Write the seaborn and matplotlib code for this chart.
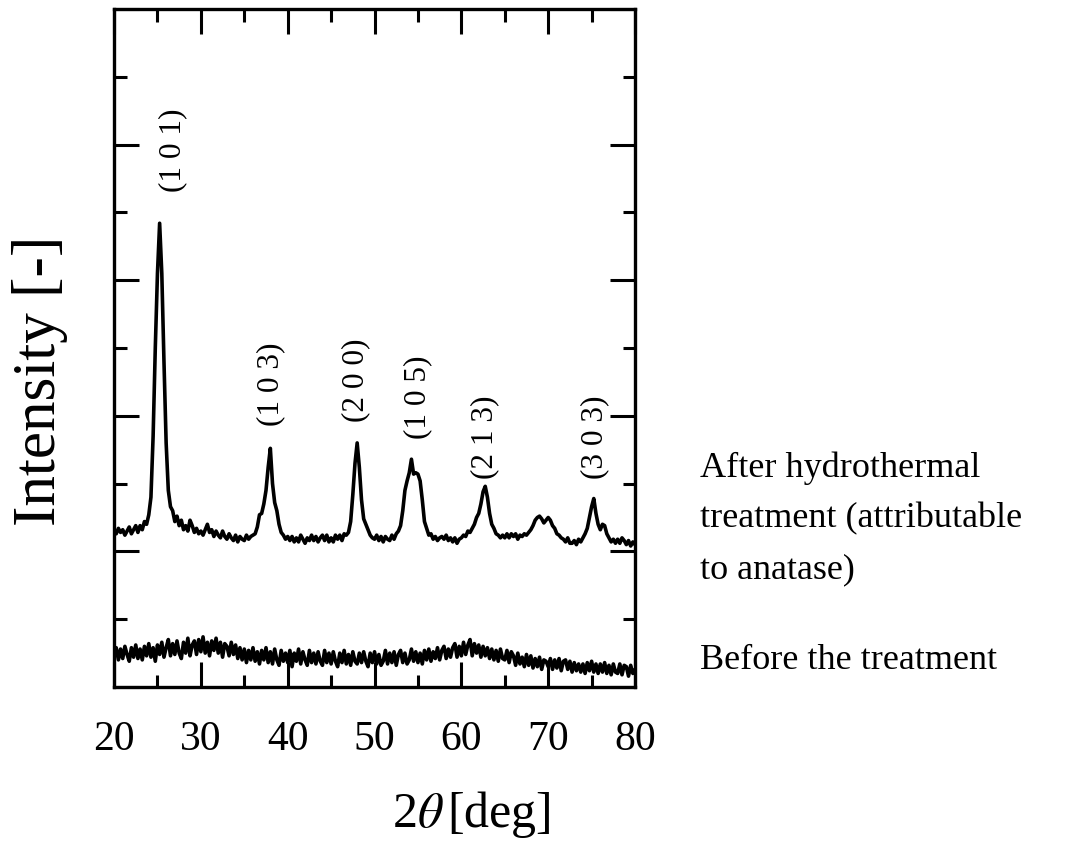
import numpy as np
import pandas as pd
import matplotlib
matplotlib.use("Agg")
import matplotlib.pyplot as plt
import seaborn as sns
from matplotlib.ticker import MultipleLocator

# XRD traces, one value every 0.25 deg from 20 to 80
two_theta = np.linspace(20, 80, 241)

after = [
    1.16, 1.13, 1.17, 1.14,  # 20
    1.16, 1.12, 1.15, 1.18,  # 21
    1.13, 1.16, 1.19, 1.14,  # 22
    1.19, 1.16, 1.22, 1.20,  # 23
    1.27, 1.40, 1.85, 2.50,  # 24
    3.05, 3.42, 3.05, 2.40,  # 25
    1.80, 1.45, 1.33, 1.30,  # 26
    1.22, 1.26, 1.19, 1.23,  # 27
    1.16, 1.19, 1.15, 1.23,  # 28
    1.19, 1.14, 1.17, 1.13,  # 29
    1.15, 1.12, 1.16, 1.20,  # 30
    1.14, 1.16, 1.11, 1.15,  # 31
    1.12, 1.10, 1.15, 1.11,  # 32
    1.09, 1.13, 1.10, 1.08,  # 33
    1.12, 1.07, 1.11, 1.09,  # 34
    1.08, 1.12, 1.09, 1.11,  # 35
    1.12, 1.13, 1.18, 1.27,  # 36
    1.28, 1.35, 1.45, 1.62,  # 37
    1.76, 1.50, 1.36, 1.30,  # 38
    1.20, 1.14, 1.12, 1.09,  # 39
    1.11, 1.08, 1.11, 1.07,  # 40
    1.10, 1.07, 1.12, 1.09,  # 41
    1.06, 1.10, 1.08, 1.12,  # 42
    1.08, 1.11, 1.07, 1.10,  # 43
    1.12, 1.08, 1.12, 1.07,  # 44
    1.10, 1.07, 1.12, 1.09,  # 45
    1.12, 1.08, 1.13, 1.12,  # 46
    1.14, 1.22, 1.42, 1.65,  # 47
    1.80, 1.62, 1.38, 1.24,  # 48
    1.20, 1.16, 1.12, 1.10,  # 49
    1.09, 1.12, 1.08, 1.11,  # 50
    1.07, 1.11, 1.09, 1.08,  # 51
    1.12, 1.09, 1.13, 1.15,  # 52
    1.19, 1.30, 1.45, 1.52,  # 53
    1.58, 1.68, 1.57, 1.58,  # 54
    1.57, 1.52, 1.38, 1.22,  # 55
    1.17, 1.12, 1.13, 1.09,  # 56
    1.11, 1.08, 1.10, 1.11,  # 57
    1.09, 1.12, 1.08, 1.10,  # 58
    1.07, 1.10, 1.06, 1.09,  # 59
    1.10, 1.12, 1.11, 1.15,  # 60
    1.14, 1.17, 1.20, 1.25,  # 61
    1.28, 1.35, 1.44, 1.48,  # 62
    1.40, 1.28, 1.20, 1.17,  # 63
    1.13, 1.12, 1.10, 1.12,  # 64
    1.10, 1.13, 1.10, 1.13,  # 65
    1.11, 1.13, 1.09, 1.12,  # 66
    1.11, 1.13, 1.12, 1.14,  # 67
    1.16, 1.19, 1.23, 1.25,  # 68
    1.26, 1.24, 1.21, 1.23,  # 69
    1.25, 1.23, 1.19, 1.17,  # 70
    1.13, 1.12, 1.10, 1.09,  # 71
    1.07, 1.10, 1.06, 1.06,  # 72
    1.08, 1.05, 1.09, 1.07,  # 73
    1.10, 1.13, 1.17, 1.25,  # 74
    1.33, 1.39, 1.28, 1.20,  # 75
    1.16, 1.20, 1.19, 1.13,  # 76
    1.10, 1.07, 1.09, 1.06,  # 77
    1.09, 1.06, 1.10, 1.08,  # 78
    1.05, 1.08, 1.04, 1.07,  # 79
    1.05,
]

before = [
    0.22, 0.29, 0.20, 0.28,  # 20
    0.21, 0.30, 0.24, 0.19,  # 21
    0.29, 0.22, 0.31, 0.21,  # 22
    0.28, 0.20, 0.30, 0.23,  # 23
    0.32, 0.22, 0.29, 0.19,  # 24
    0.31, 0.24, 0.33, 0.22,  # 25
    0.29, 0.35, 0.23, 0.32,  # 26
    0.24, 0.34, 0.25, 0.21,  # 27
    0.33, 0.25, 0.36, 0.23,  # 28
    0.31, 0.34, 0.24, 0.35,  # 29
    0.26, 0.37, 0.25, 0.33,  # 30
    0.23, 0.34, 0.27, 0.36,  # 31
    0.25, 0.33, 0.22, 0.32,  # 32
    0.30, 0.23, 0.33, 0.24,  # 33
    0.31, 0.21, 0.29, 0.20,  # 34
    0.28, 0.18, 0.27, 0.20,  # 35
    0.29, 0.19, 0.26, 0.17,  # 36
    0.27, 0.20, 0.29, 0.18,  # 37
    0.26, 0.17, 0.28, 0.20,  # 38
    0.16, 0.27, 0.19, 0.25,  # 39
    0.18, 0.27, 0.15, 0.25,  # 40
    0.19, 0.28, 0.17, 0.26,  # 41
    0.20, 0.16, 0.27, 0.18,  # 42
    0.25, 0.17, 0.26, 0.19,  # 43
    0.16, 0.27, 0.18, 0.25,  # 44
    0.17, 0.26, 0.19, 0.15,  # 45
    0.25, 0.18, 0.27, 0.17,  # 46
    0.24, 0.16, 0.26, 0.19,  # 47
    0.17, 0.25, 0.18, 0.26,  # 48
    0.19, 0.15, 0.25, 0.18,  # 49
    0.26, 0.17, 0.24, 0.16,  # 50
    0.19, 0.27, 0.17, 0.25,  # 51
    0.18, 0.26, 0.16, 0.24,  # 52
    0.27, 0.18, 0.25, 0.17,  # 53
    0.20, 0.28, 0.19, 0.26,  # 54
    0.18, 0.25, 0.17, 0.27,  # 55
    0.20, 0.28, 0.19, 0.26,  # 56
    0.21, 0.29, 0.20, 0.27,  # 57
    0.30, 0.21, 0.28, 0.22,  # 58
    0.29, 0.32, 0.22, 0.30,  # 59
    0.23, 0.33, 0.24, 0.31,  # 60
    0.35, 0.23, 0.32, 0.25,  # 61
    0.31, 0.22, 0.30, 0.23,  # 62
    0.29, 0.21, 0.28, 0.20,  # 63
    0.27, 0.19, 0.28, 0.21,  # 64
    0.20, 0.27, 0.18, 0.26,  # 65
    0.23, 0.16, 0.25, 0.17,  # 66
    0.22, 0.15, 0.24, 0.16,  # 67
    0.23, 0.14, 0.21, 0.15,  # 68
    0.22, 0.13, 0.20, 0.19,  # 69
    0.15, 0.21, 0.13, 0.20,  # 70
    0.14, 0.21, 0.12, 0.19,  # 71
    0.20, 0.13, 0.19, 0.11,  # 72
    0.18, 0.12, 0.17, 0.11,  # 73
    0.17, 0.10, 0.18, 0.12,  # 74
    0.19, 0.11, 0.17, 0.10,  # 75
    0.17, 0.11, 0.18, 0.10,  # 76
    0.16, 0.09, 0.17, 0.11,  # 77
    0.10, 0.17, 0.09, 0.16,  # 78
    0.15, 0.08, 0.16, 0.10,  # 79
    0.13,
]

peak_labels = ["(1 0 1)", "(1 0 3)", "(2 0 0)", "(1 0 5)", "(2 1 3)", "(3 0 3)"]
peak_x = [26.8, 38.0, 47.8, 55.0, 62.7, 75.4]
peak_y = [3.96, 2.23, 2.26, 2.14, 1.84, 1.84]

df = pd.DataFrame({"two_theta": two_theta, "after": after, "before": before})

sns.set_theme(style="ticks")
plt.rcParams["font.family"] = ["Liberation Serif", "DejaVu Serif"]
plt.rcParams["mathtext.fontset"] = "stix"
plt.rcParams["text.color"] = "black"
plt.rcParams["xtick.color"] = "black"
plt.rcParams["ytick.color"] = "black"

fig = plt.figure(figsize=(10.82, 8.49), dpi=100)
ax = fig.add_axes([0.1054, 0.1908, 0.4815, 0.7986])

sns.lineplot(data=df, x="two_theta", y="after", color="black", lw=2.6, ax=ax)
sns.lineplot(data=df, x="two_theta", y="before", color="black", lw=2.6, ax=ax)

for lab, px, py in zip(peak_labels, peak_x, peak_y):
    ax.text(px, py, lab, rotation=90, ha="center", va="center", fontsize=22.5, color="black")

ax.set_xlim(20, 80)
ax.set_ylim(0, 5)
ax.xaxis.set_major_locator(MultipleLocator(10))
ax.xaxis.set_minor_locator(MultipleLocator(5))
ax.yaxis.set_major_locator(MultipleLocator(1))
ax.yaxis.set_minor_locator(MultipleLocator(0.5))
ax.tick_params(which="both", direction="in", top=True, right=True,
               width=2.2, color="black", labelcolor="black", labelsize=30, pad=24)
ax.tick_params(which="major", length=18)
ax.tick_params(which="minor", length=9)
ax.set_yticklabels([])
ax.set_xlabel("")
ax.set_ylabel("")
for sp in ax.spines.values():
    sp.set_linewidth(2.4)
    sp.set_color("black")

fig.text(471 / 1082, 1 - 815 / 849, r"2$\theta\,$[deg]", ha="center", va="center", fontsize=36)
fig.text(40 / 1082, 1 - 381 / 849, "Intensity [-]", rotation=90, ha="center", va="center", fontsize=44)

fig.text(700 / 1082, 1 - 477 / 849, "After hydrothermal", ha="left", va="baseline", fontsize=26)
fig.text(700 / 1082, 1 - 527 / 849, "treatment (attributable", ha="left", va="baseline", fontsize=26)
fig.text(700 / 1082, 1 - 578 / 849, "to anatase)", ha="left", va="baseline", fontsize=26)
fig.text(700 / 1082, 1 - 669 / 849, "Before the treatment", ha="left", va="baseline", fontsize=26)

fig.savefig("out.png", dpi=100)
